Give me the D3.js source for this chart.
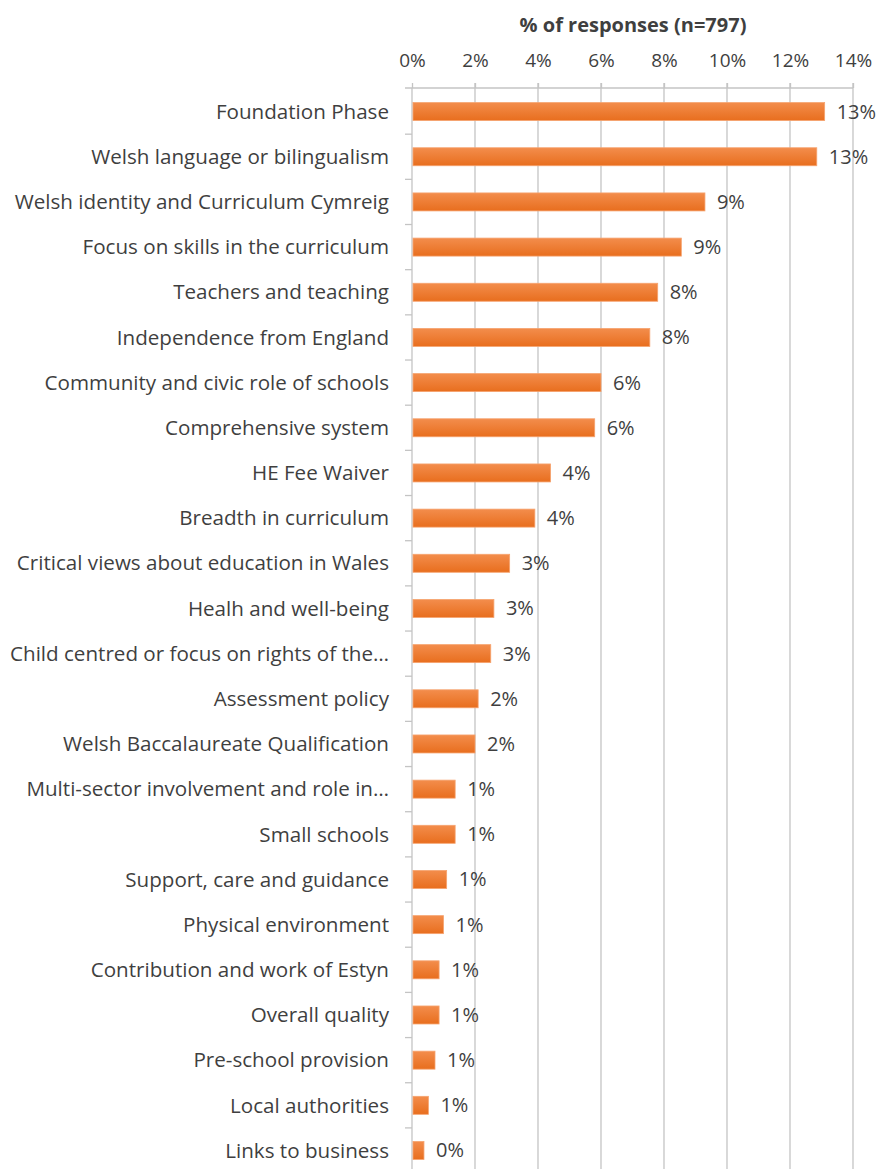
<!DOCTYPE html>
<html>
<head>
<meta charset="utf-8">
<script src="https://cdn.jsdelivr.net/npm/d3@7"></script>
<style>
  body { margin: 0; background: #fff; }
  text { font-family: "Open Sans", sans-serif; fill: #3f3f3f; }
</style>
</head>
<body>
<svg id="chart"></svg>
<script>
const categories = ["Foundation Phase", "Welsh language or bilingualism", "Welsh identity and Curriculum Cymreig",
  "Focus on skills in the curriculum", "Teachers and teaching", "Independence from England",
  "Community and civic role of schools", "Comprehensive system", "HE Fee Waiver", "Breadth in curriculum",
  "Critical views about education in Wales", "Healh and well-being", "Child centred or focus on rights of the\u2026",
  "Assessment policy", "Welsh Baccalaureate Qualification", "Multi-sector involvement and role in\u2026",
  "Small schools", "Support, care and guidance", "Physical environment", "Contribution and work of Estyn",
  "Overall quality", "Pre-school provision", "Local authorities", "Links to business"];
const values = [13.1, 12.85, 9.3, 8.55, 7.8, 7.55, 6.0, 5.8, 4.4, 3.9, 3.1, 2.6, 2.5, 2.1, 2.0, 1.37, 1.37,
  1.1, 1.0, 0.86, 0.86, 0.73, 0.52, 0.38];
const xTicks = [0, 2, 4, 6, 8, 10, 12, 14];
const title = "% of responses (n=797)";

const W = 880, H = 1169;
const plotL = 412, plotR = 853, plotT = 88, rowH = 45.17;
const svg = d3.select("#chart").attr("width", W).attr("height", H);

const defs = svg.append("defs");
const grad = defs.append("linearGradient").attr("id", "barGrad")
  .attr("x1", 0).attr("y1", 0).attr("x2", 0).attr("y2", 1);
grad.append("stop").attr("offset", "0%").attr("stop-color", "#f38d4c");
grad.append("stop").attr("offset", "100%").attr("stop-color", "#e86e1e");

const x = d3.scaleLinear().domain([0, 14]).range([plotL, plotR]);
const y = d3.scaleBand().domain(categories).range([plotT + 1, plotT + 1 + categories.length * rowH]);
const barH = 18;

// gridlines
svg.append("g").selectAll("line")
  .data(xTicks.slice(1))
  .enter().append("line")
  .attr("x1", d => x(d)).attr("x2", d => x(d))
  .attr("y1", plotT - 5).attr("y2", H)
  .attr("stroke", "#c4c4c4").attr("stroke-width", 1.3);

// top axis
const gX = svg.append("g")
  .attr("transform", "translate(0," + plotT + ")")
  .call(d3.axisTop(x).tickValues(xTicks).tickFormat(d => d + "%").tickSize(5).tickSizeOuter(0));
gX.select(".domain").attr("stroke", "#c4c4c4").attr("stroke-width", 1.3)
  .attr("d", "M" + (plotL - 7) + ",0H" + plotR);
gX.selectAll(".tick line").attr("stroke", "#c4c4c4").attr("stroke-width", 1.3);
gX.selectAll(".tick text").attr("font-size", 19).attr("fill", "#3f3f3f")
  .attr("y", -21).attr("dy", 0)
  .style("font-family", "'Open Sans', sans-serif");

// left axis line and category ticks
svg.append("line").attr("x1", plotL).attr("x2", plotL).attr("y1", plotT).attr("y2", H)
  .attr("stroke", "#c4c4c4").attr("stroke-width", 1.3);
svg.append("g").selectAll("line")
  .data(categories.slice(1))
  .enter().append("line")
  .attr("x1", plotL - 7).attr("x2", plotL)
  .attr("y1", d => y(d)).attr("y2", d => y(d))
  .attr("stroke", "#c4c4c4").attr("stroke-width", 1.3);

// bars
svg.append("g").selectAll("rect")
  .data(values)
  .enter().append("rect")
  .attr("x", x(0) + 1)
  .attr("y", (d, i) => y(categories[i]) + (y.bandwidth() - barH) / 2)
  .attr("width", d => x(d) - x(0) - 1)
  .attr("height", barH)
  .attr("fill", "url(#barGrad)")
  .attr("stroke", "#f6a36f").attr("stroke-width", 0.8);

// category labels
svg.append("g").selectAll("text")
  .data(categories)
  .enter().append("text")
  .attr("x", 389)
  .attr("y", d => y(d) + y.bandwidth() / 2)
  .attr("dy", "0.35em")
  .attr("text-anchor", "end")
  .attr("font-size", 20.6)
  .text(d => d);

// value labels
svg.append("g").selectAll("text")
  .data(values)
  .enter().append("text")
  .attr("x", d => x(d) + 12)
  .attr("y", (d, i) => y(categories[i]) + y.bandwidth() / 2)
  .attr("dy", "0.35em")
  .attr("font-size", 20)
  .text(d => Math.round(d) + "%");

// title
svg.append("text")
  .attr("x", 633).attr("y", 32)
  .attr("text-anchor", "middle")
  .attr("font-size", 20).attr("font-weight", "bold")
  .text(title);
</script>
</body>
</html>
